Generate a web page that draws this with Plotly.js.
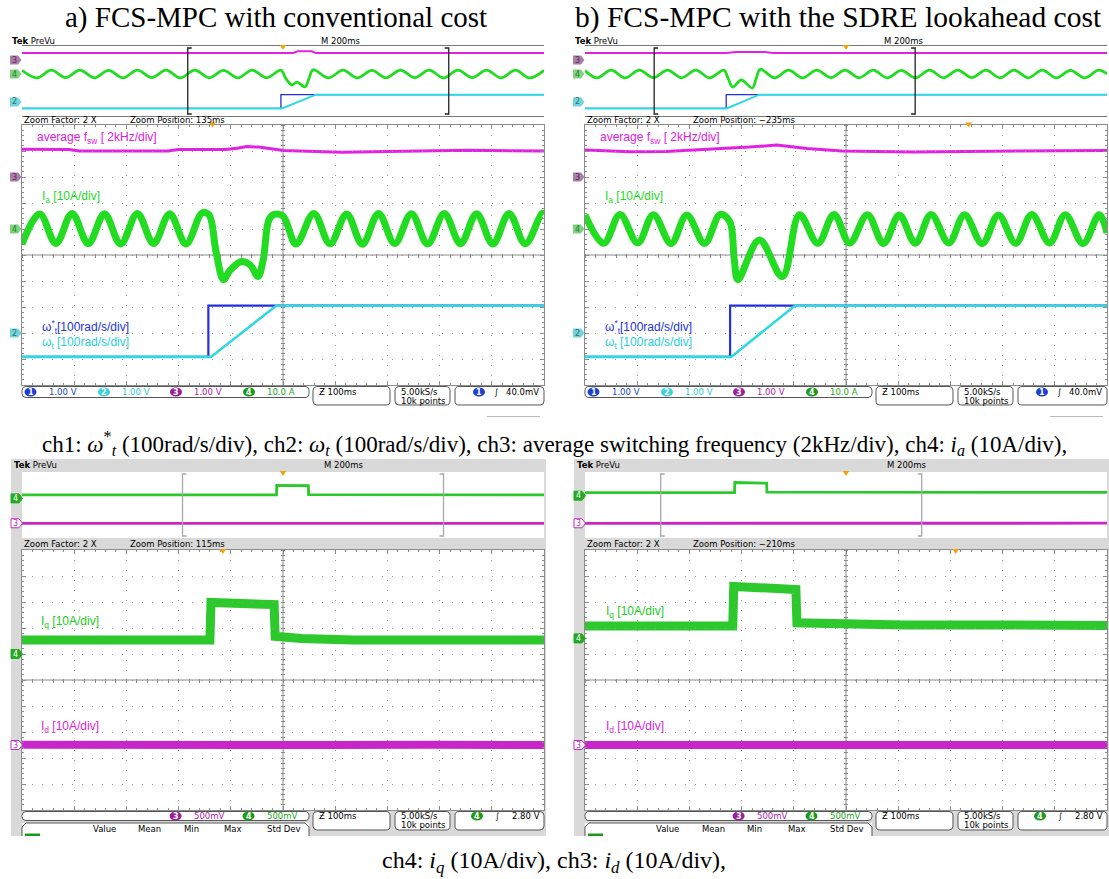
<!DOCTYPE html>
<html>
<head>
<meta charset="utf-8">
<script src="https://cdn.plot.ly/plotly-3.0.1.min.js"></script>
<style>
html,body{margin:0;padding:0;background:#ffffff;}
#chart{width:1109px;height:879px;}
</style>
</head>
<body>
<div id="chart"></div>
<script>
// ===================== DATA (read from the oscilloscope captures) =====================
// Times: ms of the 2 s acquisition record (trigger at 1000 ms).
// Currents in A, speeds in rad/s, average switching frequency in kHz.

// ---- a) FCS-MPC with conventional cost : preview (whole record) ----
const aPrevTime = [0,57,112,167,222,277,332,387,442,497,552,607,662,717,772,827,882,937,992,1010,1034,1054,1084,1100,1115,1175,1230,1285,1340,1395,1450,1505,1560,1615,1670,1725,1780,1835,1890,1945,2000];
const aPrevIa   = [5.2,-5.6,5.4,-5.3,5.6,-5.4,5.3,-5.6,5.5,-5.3,5.4,-5.6,5.5,-5.4,5.3,-5.5,5.6,-5.4,5.5,-6,-15.5,-11.5,-18.5,-6,6,-5.5,5.4,-5.6,5.3,-5.4,5.6,-5.3,5.5,-5.6,5.4,-5.3,5.5,-5.5,5.4,-5.6,5.2];
const aPrevFswTime = [0,500,1040,1055,1110,1125,1600,2000];
const aPrevFsw     = [2.0,2.0,2.0,2.5,2.5,2.0,2.0,2.0];
const aPrevSpeedRefTime = [0,992,992,2000];
const aPrevSpeedRef     = [-92,-92,105,105];
const aPrevSpeedTime    = [0,996,1126,2000];
const aPrevSpeed        = [-92,-92,105,105];
// ---- a) zoomed window ----
const aMainTime = [635,669,700,731,762,793,824,856,887,918,949,980,993,1007,1021,1033,1056,1073,1087,1097,1108,1118,1135,1160,1194,1225,1257,1287,1318,1349,1381,1412,1444,1475,1506,1537,1568,1599,1631,1635];
const aMainIa   = [-5.8,5.8,-5.6,6,-5.7,5.9,-5.8,6,-5.6,5.9,-5.8,6.2,5.5,-9,-19.5,-16,-12.5,-14,-18.3,-12,3.5,5.6,5,-5.8,6,-5.7,5.8,-5.9,6,-5.6,5.9,-5.8,6,-5.7,5.9,-5.8,6,-5.7,6,5.8];
const aMainFswTime = [635,725,745,915,935,1025,1047,1065,1088,1115,1136,1246,1335,1487,1635];
const aMainFsw     = [2.14,2.12,2.0,2.0,2.12,2.12,2.22,2.34,2.3,2.16,2.04,1.9,1.94,2.06,2.0];
const aMainSpeedRefTime = [635,992,992,1635];
const aMainSpeedRef     = [-92,-92,105,105];
const aMainSpeedTime    = [635,997,1122,1635];
const aMainSpeed        = [-92,-92,105,105];

// ---- b) FCS-MPC with the SDRE lookahead cost : preview ----
const bPrevTime = [0,46,100,154,208,262,316,370,424,478,532,548,566,599,641,656,672,726,780,834,888,942,996,1050,1104,1158,1212,1266,1320,1374,1428,1482,1536,1590,1644,1698,1752,1806,1860,1914,1968,2000];
const bPrevIa   = [5,-5.5,5.4,-5.6,5.5,-5.3,5.6,-5.4,5.5,-5.5,5.6,-6,-18.6,-8.6,-20,-6,7,-5.5,5.4,-5.6,5.5,-5.3,5.6,-5.4,5.5,-5.5,5.3,-5.6,5.5,-5.4,5.6,-5.3,5.4,-5.5,5.6,-5.4,5.5,-5.6,5.3,-5.5,5.4,0];
const bPrevFswTime = [0,540,580,690,720,2000];
const bPrevFsw     = [2.0,2.0,2.3,2.3,2.0,2.0];
const bPrevSpeedRefTime = [0,541,541,2000];
const bPrevSpeedRef     = [-92,-92,105,105];
const bPrevSpeedTime    = [0,543,668,2000];
const bPrevSpeed        = [-92,-92,105,105];
// ---- b) zoomed window ----
const bMainTime = [265,301,332,366,396,430,460,494,524,542,551,558,599,643,676,711,742,772,806,837,867,898,928,962,992,1026,1057,1090,1121,1155,1185,1219,1250,1265];
const bMainIa   = [5.4,-5.5,5.6,-5.4,5.5,-5.6,5.4,-5.5,5.6,3,-11.9,-19.5,-4.2,-18.3,5.5,-5.5,5.6,-5.4,5.5,-5.6,5.4,-5.5,5.6,-5.4,5.5,-5.6,5.4,-5.5,5.6,-5.4,5.5,-5.6,5.5,-1.5];
const bMainFswTime = [265,352,420,507,580,632,690,757,892,1095,1265];
const bMainFsw     = [2.08,1.94,1.96,2.14,2.3,2.46,2.2,2.0,1.92,2.0,2.03];
const bMainSpeedRefTime = [265,543,543,1265];
const bMainSpeedRef     = [-92,-92,105,105];
const bMainSpeedTime    = [265,545,667,1265];
const bMainSpeed        = [-92,-92,105,105];

// ---- c) conventional cost, dq currents ----
const cPrevIqTime = [0,300,600,975,976,1040,1097,1098,1400,1700,2000];
const cPrevIq     = [5.4,5.6,5.3,5.4,19.6,19.4,19.2,5.7,5.4,5.5,5.3];
const cPrevIdTime = [0,500,1000,1500,2000];
const cPrevId     = [0,0.1,-0.1,0.1,0];
const cMainIqTime = [615,700,800,900,975,977,1040,1098,1100,1150,1250,1400,1500,1615];
const cMainIq     = [5.4,5.2,5.6,5.3,5.4,19.8,19.4,19.0,6.8,6.0,5.4,5.6,5.3,5.4];
const cMainIdTime = [615,800,1000,1200,1400,1615];
const cMainId     = [0.1,-0.1,0.1,0,0.1,0];

// ---- d) SDRE lookahead cost, dq currents ----
const dPrevIqTime = [0,300,573,574,640,696,697,1000,1400,2000];
const dPrevIq     = [4.8,5.0,4.8,20,19.5,19,5.5,5.2,5.0,5.0];
const dPrevIdTime = [0,500,1000,1500,2000];
const dPrevId     = [0,0.1,-0.1,0,0.1];
const dMainIqTime = [290,400,500,573,575,620,694,696,760,900,1100,1290];
const dMainIq     = [4.8,4.6,5.0,4.8,20.0,19.4,18.8,6.0,5.6,5.2,5.2,5.0];
const dMainIdTime = [290,500,700,900,1100,1290];
const dMainId     = [0,0.1,-0.1,0,0.1,0];

// Trigger time, zoom window starts (ms) and labels
const triggerTime = 1000;
const zoomStart = {a:635, b:265, c:615, d:290};
const zoomPosLabel = {a:'135ms', b:'\u2212235ms', c:'115ms', d:'\u2212210ms'};

// ===================== DRAWING =====================
const W = 1109, H = 879;
const PX = v => v / W, PY = v => 1 - v / H;
const SCOPE = 'DejaVu Sans, sans-serif';
const SANS = 'Liberation Sans, Arial, sans-serif';
const SERIF = 'Liberation Serif, Times New Roman, serif';
const C = {ch1:'#2430dc', ch2:'#30d8e4', ch3:'#e222e2', ch4:'#22dc22', ch3b:'#c826c8', ch4b:'#2cc82c',
           grid:'#9a9a9a', frame:'#8c8c8c', trig:'#f5a300'};

const layout = {width:W, height:H, margin:{l:0,r:0,t:0,b:0}, paper_bgcolor:'#ffffff',
  plot_bgcolor:'rgba(0,0,0,0)', showlegend:false, shapes:[], annotations:[],
  font:{family:SCOPE, size:8, color:'#000'}};
const traces = [];
let nX = 0, nY = 0;
const akey = (p,n) => p + 'axis' + (n===1 ? '' : n);
const aref = (p,n) => p + (n===1 ? '' : n);

function txt(x, y, t, size, color, family, xanchor) {
  layout.annotations.push({x:PX(x), y:PY(y), xref:'paper', yref:'paper', text:t, showarrow:false,
    xanchor:xanchor||'left', yanchor:'middle', align:'left',
    font:{family:family||SCOPE, size:size||8, color:color||'#000'}});
}
function rect(x0,y0,x1,y1,fill,lineColor,lw,layer) {
  layout.shapes.push({type:'rect', xref:'paper', yref:'paper', x0:PX(x0), x1:PX(x1), y0:PY(y1), y1:PY(y0),
    fillcolor:fill||'rgba(0,0,0,0)', line:{color:lineColor||'rgba(0,0,0,0)', width:lineColor?(lw||1):0}, layer:layer||'below'});
}
function seg(x0,y0,x1,y1,color,lw,layer) {
  layout.shapes.push({type:'line', xref:'paper', yref:'paper', x0:PX(x0), y0:PY(y0), x1:PX(x1), y1:PY(y1),
    line:{color:color, width:lw||1}, layer:layer||'below'});
}
const f = (x,y) => PX(x).toFixed(5) + ',' + PY(y).toFixed(5);
function poly(pts, fill, lineColor, lw, layer, closed) {
  const d = pts.map((p,i) => (i?'L':'M') + f(p[0],p[1])).join(' ') + (closed===false ? '' : ' Z');
  layout.shapes.push({type:'path', xref:'paper', yref:'paper', path:d, fillcolor:fill||'rgba(0,0,0,0)',
    line:{color:lineColor||'rgba(0,0,0,0)', width:lineColor?(lw||1):0}, layer:layer||'above'});
}
function rbox(x0,y0,x1,y1,r,fill,lineColor) {
  const d = `M${f(x0+r,y0)} L${f(x1-r,y0)} Q${f(x1,y0)} ${f(x1,y0+r)} L${f(x1,y1-r)} Q${f(x1,y1)} ${f(x1-r,y1)} L${f(x0+r,y1)} Q${f(x0,y1)} ${f(x0,y1-r)} L${f(x0,y0+r)} Q${f(x0,y0)} ${f(x0+r,y0)} Z`;
  layout.shapes.push({type:'path', xref:'paper', yref:'paper', path:d, fillcolor:fill, line:{color:lineColor, width:1}, layer:'above'});
}
function ell(cx,cy,rx,ry,fill) {
  layout.shapes.push({type:'circle', xref:'paper', yref:'paper', x0:PX(cx-rx), x1:PX(cx+rx), y0:PY(cy+ry), y1:PY(cy-ry),
    fillcolor:fill, line:{width:0}, layer:'above'});
}

function screen(box, range, isMain, chans, frameColor) {
  const [x0,x1,y0,y1] = box;
  const xDom = [PX(x0),PX(x1)], yDom = [PY(y1),PY(y0)];
  const xi = ++nX, yi = ++nY, xr = aref('x',xi), yr = aref('y',yi);
  const divT = (range[1]-range[0]) / 10;
  const base = {fixedrange:true, showticklabels:false, zeroline:false, showline:true, linewidth:1,
    mirror:true, linecolor:frameColor, showgrid:false, ticks:''};
  const xa = Object.assign({domain:xDom, range:range.slice(), anchor:yr}, base);
  const ya = Object.assign({domain:yDom, range:[-5,5], anchor:xr}, base);
  if (isMain) {
    Object.assign(xa, {showgrid:true, gridcolor:C.grid, gridwidth:1, griddash:'1px,9px', tick0:range[0], dtick:divT,
      ticks:'inside', ticklen:4, tickcolor:C.frame, mirror:'ticks',
      minor:{tick0:range[0], dtick:divT/5, ticks:'inside', ticklen:2, tickcolor:C.frame, showgrid:false}});
    Object.assign(ya, {showgrid:true, gridcolor:C.grid, gridwidth:1, griddash:'1px,9px', tick0:-5, dtick:1,
      ticks:'inside', ticklen:4, tickcolor:C.frame, mirror:'ticks',
      minor:{tick0:-5, dtick:0.2, ticks:'inside', ticklen:2, tickcolor:C.frame, showgrid:false}});
  }
  layout[akey('x',xi)] = xa; layout[akey('y',yi)] = ya;
  if (isMain) {
    const cx = (x0+x1)/2, cy = (y0+y1)/2;
    seg(cx,y0,cx,y1,C.frame,1); seg(x0,cy,x1,cy,C.frame,1);
    // tick marks along the centre cross (scale axes only, no data)
    const tx = ++nX, txr = aref('x',tx);
    layout[akey('x',tx)] = {overlaying:xr, domain:xDom, anchor:'free', position:PY(cy-2), range:range.slice(), fixedrange:true,
      showticklabels:false, showgrid:false, zeroline:false, showline:false, ticks:'outside', ticklen:4,
      tickcolor:C.frame, tick0:range[0], dtick:divT/5};
    const ty = ++nY, tyr = aref('y',ty);
    layout[akey('y',ty)] = {overlaying:yr, domain:yDom, anchor:'free', position:PX(cx+2), side:'left', range:[-5,5], fixedrange:true,
      showticklabels:false, showgrid:false, zeroline:false, showline:false, ticks:'outside', ticklen:4,
      tickcolor:C.frame, tick0:-5, dtick:0.2};
    traces.push({type:'scatter', mode:'lines', x:[], y:[], xaxis:txr, yaxis:yr, hoverinfo:'skip', showlegend:false});
    traces.push({type:'scatter', mode:'lines', x:[], y:[], xaxis:xr, yaxis:tyr, hoverinfo:'skip', showlegend:false});
  }
  const ch = {};
  chans.forEach(c => {
    const i = ++nY;
    layout[akey('y',i)] = {overlaying:yr, anchor:xr, domain:yDom, range:[(-5-c.ground)*c.perDiv, (5-c.ground)*c.perDiv],
      showgrid:false, zeroline:false, showline:false, showticklabels:false, ticks:'', fixedrange:true};
    ch[c.id] = aref('y',i);
  });
  return {x:xr, ch, box, range, chans};
}
function trace(scr, id, xs, ys, color, width, shape) {
  traces.push({type:'scatter', mode:'lines', x:xs, y:ys, xaxis:scr.x, yaxis:scr.ch[id],
    line:{color, width, shape:shape||'linear'}, hoverinfo:'skip', showlegend:false});
}
function tab(scr, id, x0, fill, digit, digitColor, border) {
  const c = scr.chans.find(k => k.id === id);
  const [, , y0, y1] = scr.box;
  const yc = y0 + (5 - c.ground) * (y1 - y0) / 10;
  poly([[x0,yc-4.5],[x0+8,yc-4.5],[x0+11.5,yc],[x0+8,yc+4.5],[x0,yc+4.5]], fill, border, 1, 'above');
  txt(x0+4.6, yc, digit, 8, digitColor, SCOPE, 'center');
}
function brackets(scr, start, color) {
  const [x0,x1,y0,y1] = scr.box;
  const s = 4 * (scr.range[1]-scr.range[0]) / (x1-x0);
  const end = start + 1000;
  const top = PY(y0+2), bot = PY(y1-2);
  layout.shapes.push({type:'path', xref:scr.x, yref:'paper', layer:'above', line:{color, width:1.3},
    path:`M${start+s},${top} L${start},${top} L${start},${bot} L${start+s},${bot}`});
  layout.shapes.push({type:'path', xref:scr.x, yref:'paper', layer:'above', line:{color, width:1.3},
    path:`M${end-s},${top} L${end},${top} L${end},${bot} L${end-s},${bot}`});
}
function trigger(scr, yTop) {
  const [x0,x1] = scr.box;
  const hw = 3.2 * (scr.range[1]-scr.range[0]) / (x1-x0);
  layout.shapes.push({type:'path', xref:scr.x, yref:'paper', layer:'above', fillcolor:C.trig, line:{width:0},
    path:`M${triggerTime-hw},${PY(yTop)} L${triggerTime+hw},${PY(yTop)} L${triggerTime},${PY(yTop+5)} Z`});
}

// ---------- top panels (a, b) ----------
function topPanel(p, sx, d) {
  const chans = [{id:'fsw', ground:3, perDiv:2}, {id:'ia', ground:1, perDiv:10}, {id:'w', ground:-3, perDiv:100}];
  const prev = screen([22+sx,544+sx,46,116], [0,2000], false, chans, '#333');
  const main = screen([22+sx,544+sx,125,385], [zoomStart[p], zoomStart[p]+1000], true, chans, C.frame);
  trace(prev,'fsw',d.pFswT,d.pFsw,C.ch3,2);
  trace(prev,'ia',d.pT,d.pIa,C.ch4,2.8,'spline');
  trace(prev,'w',d.pWrT,d.pWr,C.ch1,1.3);
  trace(prev,'w',d.pWT,d.pW,C.ch2,2);
  trace(main,'fsw',d.mFswT,d.mFsw,C.ch3,3);
  trace(main,'ia',d.mT,d.mIa,C.ch4,7,'spline');
  trace(main,'w',d.mWrT,d.mWr,C.ch1,2.2);
  trace(main,'w',d.mWT,d.mW,C.ch2,2.6);
  brackets(prev, zoomStart[p], '#222');
  trigger(prev, 45); trigger(main, 122.5);
  [prev, main].forEach(s => {
    tab(s,'fsw',10+sx,'#a77fa7','3','#5a2a5a');
    tab(s,'ia',10+sx,'#7fd27f','4','#2d7d2d');
    tab(s,'w',10+sx,'#72d4da','2','#2a7278');
  });
  txt(10+sx,41,'<b>Tek</b> PreVu',8.5);
  txt(319+sx,41,'M 200ms',8.5);
  txt(22+sx,119.5,'Zoom Factor: 2 X',8.5);
  txt(128+sx,119.5,'Zoom Position: '+zoomPosLabel[p],8.5);
  txt(35+sx,138,'average f<sub>sw</sub> [ 2kHz/div]',12,'#e020e0',SANS);
  txt(40+sx,197,'I<sub>a</sub> [10A/div]',12,'#22d822',SANS);
  txt(40+sx,327,'\u03C9<sup>*</sup><sub>t</sub>[100rad/s/div]',12,'#2233dd',SANS);
  txt(40+sx,343,'\u03C9<sub>t</sub> [100rad/s/div]',12,'#2bcfdc',SANS);
  // status bar
  rbox(22+sx,386.5,309+sx,397.5,4,'#fff','#555');
  rbox(313+sx,386.5,390+sx,405,4,'#fff','#555');
  rbox(395+sx,386.5,450+sx,405,4,'#fff','#555');
  rbox(455+sx,386.5,544+sx,405,4,'#fff','#555');
  const ent = [[30.5,'1','#1f3fd0','#2244cc','1.00 V'],[104,'2','#3cd2dc','#33c8d0','1.00 V'],
               [176,'3','#9b1f9b','#aa22aa','1.00 V'],[249,'4','#1a9a1a','#22aa22','10.0 A']];
  ent.forEach(e => { ell(e[0]+sx,392,6,4.5,e[2]); txt(e[0]+sx,392,'<b>'+e[1]+'</b>',8,'#fff',SCOPE,'center');
                     txt(e[0]+16+sx,392,e[4],8.5,e[3]); });
  txt(317+sx,392,'\u01B5 100ms',8.5);
  txt(399+sx,392,'5.00kS/s',8.5);
  txt(399+sx,400.5,'10k points',8.5);
  ell(479+sx,392,6,4.5,'#1f3fd0'); txt(479+sx,392,'<b>1</b>',8,'#fff',SCOPE,'center');
  txt(492+sx,392,'\u222B',8.5);
  txt(541+sx,392,'40.0mV',8.5,'#000',SCOPE,'right');
  seg(487+sx,416.5,540+sx,416.5,'#bbb',1);
}

// ---------- bottom panels (c, d) ----------
function bottomPanel(p, sx, d, g) {
  rect(11+sx,459,546+sx,836,'#d9d9d9');
  rect(22+sx,472,544+sx,538,'#ffffff');
  rect(22+sx,550,544+sx,810,'#ffffff');
  const pch = [{id:'id', ground:g.pId, perDiv:10}, {id:'iq', ground:g.pIq, perDiv:10}];
  const mch = [{id:'id', ground:g.mId, perDiv:10}, {id:'iq', ground:g.mIq, perDiv:10}];
  const prev = screen([22+sx,544+sx,472,538], [0,2000], false, pch, '#777');
  const main = screen([22+sx,544+sx,550,810], [zoomStart[p], zoomStart[p]+1000], true, mch, C.frame);
  trace(prev,'id',d.pIdT,d.pId,C.ch3b,2.8);
  trace(prev,'iq',d.pIqT,d.pIq,C.ch4b,2.8);
  trace(main,'id',d.mIdT,d.mId,C.ch3b,8);
  trace(main,'iq',d.mIqT,d.mIq,C.ch4b,9);
  brackets(prev, zoomStart[p], '#a8a8a8');
  trigger(prev, 471); trigger(main, 549);
  [prev, main].forEach(s => {
    tab(s,'iq',11+sx,'#22aa22','4','#ffffff','#22aa22');
    tab(s,'id',11+sx,'#ffffff','3','#c02cc0','#c02cc0');
  });
  txt(12+sx,465,'<b>Tek</b> PreVu',8.5);
  txt(322+sx,465,'M 200ms',8.5);
  txt(22+sx,543.5,'Zoom Factor: 2 X',8.5);
  txt(128+sx,543.5,'Zoom Position: '+zoomPosLabel[p],8.5);
  txt(g.lx+sx,g.lqy,'I<sub>q</sub> [10A/div]',12,'#22cc22',SANS);
  txt(g.lx+sx,727,'I<sub>d</sub> [10A/div]',12,'#dd22dd',SANS);
  // status bar
  rbox(22+sx,811.5,309+sx,820.5,4,'#fff','#555');
  rbox(313+sx,811.5,390+sx,830,4,'#fff','#555');
  rbox(395+sx,811.5,450+sx,830,4,'#fff','#555');
  rbox(455+sx,811.5,544+sx,830,4,'#fff','#555');
  rect(22+sx,823,309+sx,836,'#ffffff',null,0,'above');
  poly([[22+sx,836],[22+sx,827],[26+sx,823],[305+sx,823],[309+sx,827],[309+sx,836]],null,'#555',1,'above',false);
  ell(175.6+sx,816,6,4.5,'#9b1f9b'); txt(175.6+sx,816,'<b>3</b>',8,'#fff',SCOPE,'center');
  txt(191.8+sx,816,'500mV',8.5,'#aa22aa');
  ell(248.5+sx,816,6,4.5,'#1a9a1a'); txt(248.5+sx,816,'<b>4</b>',8,'#fff',SCOPE,'center');
  txt(264.5+sx,816,'500mV',8.5,'#22aa22');
  txt(317+sx,816,'\u01B5 100ms',8.5);
  txt(399+sx,816,'5.00kS/s',8.5);
  txt(399+sx,825,'10k points',8.5);
  ell(477+sx,816,6,4.5,'#1a9a1a'); txt(477+sx,816,'<b>4</b>',8,'#fff',SCOPE,'center');
  txt(493+sx,816,'\u222B',8.5);
  txt(542+sx,816,'2.80 V',8.5,'#000',SCOPE,'right');
  [['Value',104.5],['Mean',150],['Min',191],['Max',233.5],['Std Dev',283.5]].forEach(h =>
    txt(h[1]+sx,828.5,h[0],8.5,'#000',SCOPE,'center'));
  rect(25+sx,833.5,40+sx,836,'#1a9a1a',null,0,'above');
}

topPanel('a', 0, {pT:aPrevTime,pIa:aPrevIa,pFswT:aPrevFswTime,pFsw:aPrevFsw,pWrT:aPrevSpeedRefTime,pWr:aPrevSpeedRef,pWT:aPrevSpeedTime,pW:aPrevSpeed,
  mT:aMainTime,mIa:aMainIa,mFswT:aMainFswTime,mFsw:aMainFsw,mWrT:aMainSpeedRefTime,mWr:aMainSpeedRef,mWT:aMainSpeedTime,mW:aMainSpeed});
topPanel('b', 563, {pT:bPrevTime,pIa:bPrevIa,pFswT:bPrevFswTime,pFsw:bPrevFsw,pWrT:bPrevSpeedRefTime,pWr:bPrevSpeedRef,pWT:bPrevSpeedTime,pW:bPrevSpeed,
  mT:bMainTime,mIa:bMainIa,mFswT:bMainFswTime,mFsw:bMainFsw,mWrT:bMainSpeedRefTime,mWr:bMainSpeedRef,mWT:bMainSpeedTime,mW:bMainSpeed});
bottomPanel('c', 0, {pIqT:cPrevIqTime,pIq:cPrevIq,pIdT:cPrevIdTime,pId:cPrevId,mIqT:cMainIqTime,mIq:cMainIq,mIdT:cMainIdTime,mId:cMainId},
  {pId:-2.77, pIq:1.0, mId:-2.5, mIq:1.0, lx:39, lqy:622});
bottomPanel('d', 563, {pIqT:dPrevIqTime,pIq:dPrevIq,pIdT:dPrevIdTime,pId:dPrevId,mIqT:dMainIqTime,mIq:dMainIq,mIdT:dMainIdTime,mId:dMainId},
  {pId:-2.77, pIq:1.41, mId:-2.5, mIq:1.6, lx:41, lqy:612});

// titles and captions
txt(276,18,'a) FCS-MPC with conventional cost',29,'#000',SERIF,'center');
txt(838,18,'b) FCS-MPC with the SDRE lookahead cost',29.5,'#000',SERIF,'center');
txt(554,444,'ch1: <i>\u03C9</i><sup>*</sup><sub><i>t</i></sub> (100rad/s/div), ch2: <i>\u03C9</i><sub><i>t</i></sub> (100rad/s/div), ch3: average switching frequency (2kHz/div), ch4: <i>i</i><sub><i>a</i></sub> (10A/div),',23,'#000',SERIF,'center');
txt(554,862,'ch4: <i>i</i><sub><i>q</i></sub> (10A/div), ch3: <i>i</i><sub><i>d</i></sub> (10A/div),',24,'#000',SERIF,'center');

Plotly.newPlot('chart', traces, layout, {displayModeBar:false, staticPlot:true});
</script>
</body>
</html>
